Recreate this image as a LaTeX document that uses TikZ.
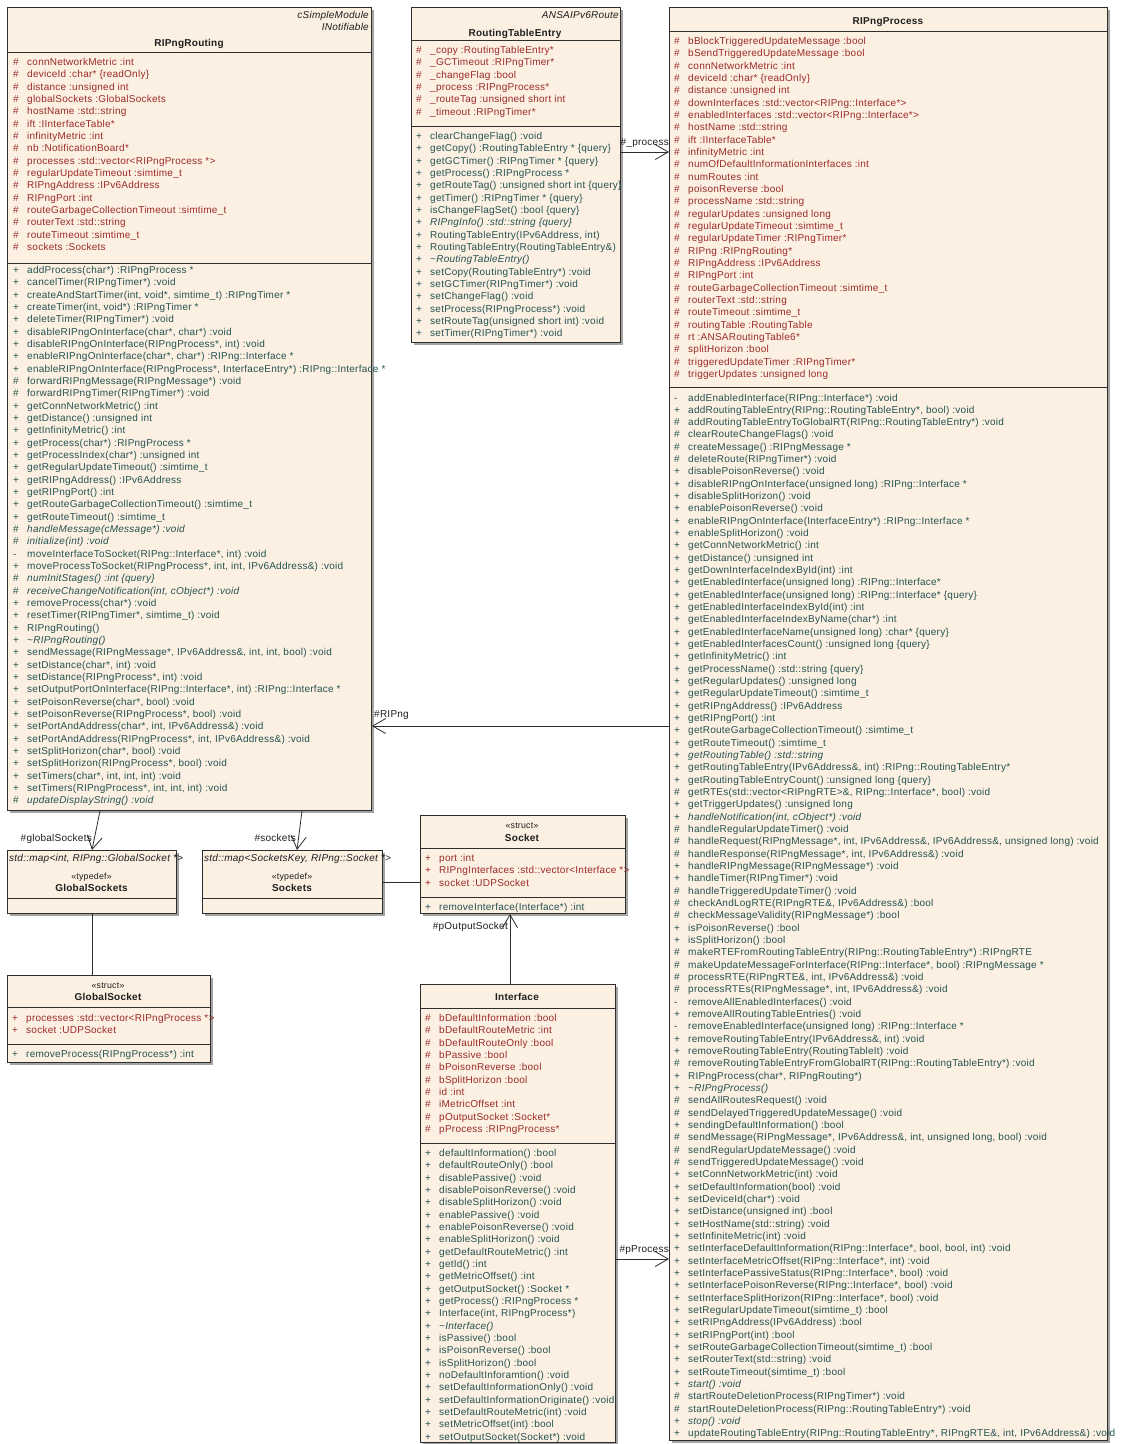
\documentclass[tikz,border=0pt]{standalone}
\usepackage{fontspec}
\setmainfont{Liberation Sans}[LetterSpace=2.5]
\usetikzlibrary{arrows.meta,shadows}
\definecolor{paper}{HTML}{FBF0E1}
\definecolor{frame}{HTML}{2E2E2E}
\definecolor{shade}{HTML}{A4A4A4}
\definecolor{attrtxt}{HTML}{9C2A2A}
\definecolor{optxt}{HTML}{245252}
\definecolor{ink}{HTML}{1E1E1E}
\newcommand\vis[1]{\makebox[14pt][l]{#1}}

\begin{document}
\begin{tikzpicture}[x=1pt,y=-1pt,
  every node/.style={font=\fontsize{10}{11}\selectfont,inner sep=0pt},
  cls/.style={draw=frame,fill=paper,line width=0.9pt,anchor=north west,
    drop shadow={shadow xshift=2.5pt,shadow yshift=-2.5pt,fill=shade,opacity=1}},
  attr/.style={anchor=base west,text=attrtxt},
  oper/.style={anchor=base west,text=optxt},
  cname/.style={anchor=base,font=\fontsize{10}{11}\selectfont\bfseries,text=ink},
  stereo/.style={anchor=base,font=\fontsize{8.8}{10}\selectfont,text=ink},
  tagged/.style={font=\fontsize{10}{11}\selectfont\itshape,text=ink},
  role/.style={anchor=base east,text=ink},
  sep/.style={draw=frame,line width=0.9pt},
  assoc/.style={draw=frame,line width=0.8pt,-{Straight Barb[length=13pt,width=15pt]}},
  link/.style={draw=frame,line width=0.8pt}]
\def\dy{12.33}
\fill[white] (0,0) rectangle (1121,1444);
\useasboundingbox (0,0) rectangle (1121,1444);

% class boxes
\node[cls,minimum width=364,minimum height=803] (routing) at (7,7) {};
\node[cls,minimum width=209,minimum height=335] (rte) at (411,7) {};
\node[cls,minimum width=438,minimum height=1433] (proc) at (669,7) {};
\node[cls,minimum width=169,minimum height=63] (gsockets) at (7,850) {};
\node[cls,minimum width=180,minimum height=63] (sockets) at (202,850) {};
\node[cls,minimum width=205,minimum height=98] (socket) at (420,815) {};
\node[cls,minimum width=203,minimum height=87] (gsocket) at (7,975) {};
\node[cls,minimum width=195,minimum height=458] (iface) at (420,984) {};

\draw[sep] (7,52) -- (371,52);
\draw[sep] (7,263) -- (371,263);
\draw[sep] (411,40) -- (620,40);
\draw[sep] (411,126) -- (620,126);
\draw[sep] (669,31) -- (1107,31);
\draw[sep] (669,387) -- (1107,387);
\draw[sep] (7,898) -- (176,898);
\draw[sep] (202,898) -- (382,898);
\draw[sep] (420,848) -- (625,848);
\draw[sep] (420,897) -- (625,897);
\draw[sep] (7,1007) -- (210,1007);
\draw[sep] (7,1044) -- (210,1044);
\draw[sep] (420,1008) -- (615,1008);
\draw[sep] (420,1143) -- (615,1143);

% RIPngRouting
\node[tagged,anchor=base east] (rtag1) at (369,18.5) {cSimpleModule};
\node[tagged,anchor=base east] (rtag2) at (369,30.5) {INotifiable};
\node[cname] (rname) at (189,46) {RIPngRouting};
\foreach \vs/\txt [count=\i from 0] in {\#/connNetworkMetric :int, \#/deviceId :char* \{readOnly\},
  \#/distance :unsigned int, \#/globalSockets :GlobalSockets, \#/hostName :std::string,
  \#/ift :IInterfaceTable*, \#/infinityMetric :int, \#/nb :NotificationBoard*,
  \#/processes :std::vector<RIPngProcess *>, \#/regularUpdateTimeout :simtime\_t,
  \#/RIPngAddress :IPv6Address, \#/RIPngPort :int, \#/routeGarbageCollectionTimeout :simtime\_t,
  \#/routerText :std::string, \#/routeTimeout :simtime\_t, \#/sockets :Sockets}
  \node[attr] (ra\i) at (13,{65.5+\i*\dy}) {\vis{\vs}\txt};
\foreach \vs/\txt [count=\i from 0] in {+/addProcess(char*) :RIPngProcess *,
  +/cancelTimer(RIPngTimer*) :void,
  +/{createAndStartTimer(int, void*, simtime\_t) :RIPngTimer *},
  +/{createTimer(int, void*) :RIPngTimer *},
  +/deleteTimer(RIPngTimer*) :void,
  +/{disableRIPngOnInterface(char*, char*) :void},
  +/{disableRIPngOnInterface(RIPngProcess*, int) :void},
  +/{enableRIPngOnInterface(char*, char*) :RIPng::Interface *},
  +/{enableRIPngOnInterface(RIPngProcess*, InterfaceEntry*) :RIPng::Interface *},
  \#/forwardRIPngMessage(RIPngMessage*) :void,
  \#/forwardRIPngTimer(RIPngTimer*) :void,
  +/getConnNetworkMetric() :int,
  +/getDistance() :unsigned int,
  +/getInfinityMetric() :int,
  +/getProcess(char*) :RIPngProcess *,
  +/getProcessIndex(char*) :unsigned int,
  +/getRegularUpdateTimeout() :simtime\_t,
  +/getRIPngAddress() :IPv6Address,
  +/getRIPngPort() :int,
  +/getRouteGarbageCollectionTimeout() :simtime\_t,
  +/getRouteTimeout() :simtime\_t,
  \#/{\itshape handleMessage(cMessage*) :void},
  \#/{\itshape initialize(int) :void},
  -/{moveInterfaceToSocket(RIPng::Interface*, int) :void},
  +/{moveProcessToSocket(RIPngProcess*, int, int, IPv6Address\&) :void},
  \#/{\itshape numInitStages() :int \{query\}},
  \#/{\itshape receiveChangeNotification(int, cObject*) :void},
  +/removeProcess(char*) :void,
  +/{resetTimer(RIPngTimer*, simtime\_t) :void},
  +/RIPngRouting(),
  +/{\itshape \textasciitilde RIPngRouting()},
  +/{sendMessage(RIPngMessage*, IPv6Address\&, int, int, bool) :void},
  +/{setDistance(char*, int) :void},
  +/{setDistance(RIPngProcess*, int) :void},
  +/{setOutputPortOnInterface(RIPng::Interface*, int) :RIPng::Interface *},
  +/{setPoisonReverse(char*, bool) :void},
  +/{setPoisonReverse(RIPngProcess*, bool) :void},
  +/{setPortAndAddress(char*, int, IPv6Address\&) :void},
  +/{setPortAndAddress(RIPngProcess*, int, IPv6Address\&) :void},
  +/{setSplitHorizon(char*, bool) :void},
  +/{setSplitHorizon(RIPngProcess*, bool) :void},
  +/{setTimers(char*, int, int, int) :void},
  +/{setTimers(RIPngProcess*, int, int, int) :void},
  \#/{\itshape updateDisplayString() :void}}
  \node[oper] (ro\i) at (13,{273.5+\i*\dy}) {\vis{\vs}\txt};

% RoutingTableEntry
\node[tagged,anchor=base east] (ttag) at (619,18.5) {ANSAIPv6Route};
\node[cname] (tname) at (515,36.5) {RoutingTableEntry};
\foreach \vs/\txt [count=\i from 0] in {\#/\_copy :RoutingTableEntry*, \#/\_GCTimeout :RIPngTimer*,
  \#/\_changeFlag :bool, \#/\_process :RIPngProcess*, \#/\_routeTag :unsigned short int,
  \#/\_timeout :RIPngTimer*}
  \node[attr] (ta\i) at (416,{53.5+\i*\dy}) {\vis{\vs}\txt};
\foreach \vs/\txt [count=\i from 0] in {+/clearChangeFlag() :void,
  +/getCopy() :RoutingTableEntry * \{query\},
  +/getGCTimer() :RIPngTimer * \{query\},
  +/getProcess() :RIPngProcess *,
  +/getRouteTag() :unsigned short int \{query\},
  +/getTimer() :RIPngTimer * \{query\},
  +/isChangeFlagSet() :bool \{query\},
  +/{\itshape RIPngInfo() :std::string \{query\}},
  +/{RoutingTableEntry(IPv6Address, int)},
  +/RoutingTableEntry(RoutingTableEntry\&),
  +/{\itshape \textasciitilde RoutingTableEntry()},
  +/setCopy(RoutingTableEntry*) :void,
  +/setGCTimer(RIPngTimer*) :void,
  +/setChangeFlag() :void,
  +/setProcess(RIPngProcess*) :void,
  +/setRouteTag(unsigned short int) :void,
  +/setTimer(RIPngTimer*) :void}
  \node[oper] (to\i) at (416,{139.5+\i*\dy}) {\vis{\vs}\txt};

% RIPngProcess
\node[cname] (pname) at (888,24) {RIPngProcess};
\foreach \vs/\txt [count=\i from 0] in {\#/bBlockTriggeredUpdateMessage :bool,
  \#/bSendTriggeredUpdateMessage :bool, \#/connNetworkMetric :int, \#/deviceId :char* \{readOnly\},
  \#/distance :unsigned int, \#/downInterfaces :std::vector<RIPng::Interface*>,
  \#/enabledInterfaces :std::vector<RIPng::Interface*>, \#/hostName :std::string,
  \#/ift :IInterfaceTable*, \#/infinityMetric :int, \#/numOfDefaultInformationInterfaces :int,
  \#/numRoutes :int, \#/poisonReverse :bool, \#/processName :std::string,
  \#/regularUpdates :unsigned long, \#/regularUpdateTimeout :simtime\_t,
  \#/regularUpdateTimer :RIPngTimer*, \#/RIPng :RIPngRouting*, \#/RIPngAddress :IPv6Address,
  \#/RIPngPort :int, \#/routeGarbageCollectionTimeout :simtime\_t, \#/routerText :std::string,
  \#/routeTimeout :simtime\_t, \#/routingTable :RoutingTable, \#/rt :ANSARoutingTable6*,
  \#/splitHorizon :bool, \#/triggeredUpdateTimer :RIPngTimer*, \#/triggerUpdates :unsigned long}
  \node[attr] (pa\i) at (674,{44.5+\i*\dy}) {\vis{\vs}\txt};
\foreach \vs/\txt [count=\i from 0] in {-/addEnabledInterface(RIPng::Interface*) :void,
  +/{addRoutingTableEntry(RIPng::RoutingTableEntry*, bool) :void},
  \#/addRoutingTableEntryToGlobalRT(RIPng::RoutingTableEntry*) :void,
  \#/clearRouteChangeFlags() :void,
  \#/createMessage() :RIPngMessage *,
  \#/deleteRoute(RIPngTimer*) :void,
  +/disablePoisonReverse() :void,
  +/disableRIPngOnInterface(unsigned long) :RIPng::Interface *,
  +/disableSplitHorizon() :void,
  +/enablePoisonReverse() :void,
  +/enableRIPngOnInterface(InterfaceEntry*) :RIPng::Interface *,
  +/enableSplitHorizon() :void,
  +/getConnNetworkMetric() :int,
  +/getDistance() :unsigned int,
  +/getDownInterfaceIndexById(int) :int,
  +/getEnabledInterface(unsigned long) :RIPng::Interface*,
  +/getEnabledInterface(unsigned long) :RIPng::Interface* \{query\},
  +/getEnabledInterfaceIndexById(int) :int,
  +/getEnabledInterfaceIndexByName(char*) :int,
  +/getEnabledInterfaceName(unsigned long) :char* \{query\},
  +/getEnabledInterfacesCount() :unsigned long \{query\},
  +/getInfinityMetric() :int,
  +/getProcessName() :std::string \{query\},
  +/getRegularUpdates() :unsigned long,
  +/getRegularUpdateTimeout() :simtime\_t,
  +/getRIPngAddress() :IPv6Address,
  +/getRIPngPort() :int,
  +/getRouteGarbageCollectionTimeout() :simtime\_t,
  +/getRouteTimeout() :simtime\_t,
  +/{\itshape getRoutingTable() :std::string},
  +/{getRoutingTableEntry(IPv6Address\&, int) :RIPng::RoutingTableEntry*},
  +/getRoutingTableEntryCount() :unsigned long \{query\},
  \#/{getRTEs(std::vector<RIPngRTE>\&, RIPng::Interface*, bool) :void},
  +/getTriggerUpdates() :unsigned long,
  +/{\itshape handleNotification(int, cObject*) :void},
  \#/handleRegularUpdateTimer() :void,
  \#/{handleRequest(RIPngMessage*, int, IPv6Address\&, IPv6Address\&, unsigned long) :void},
  \#/{handleResponse(RIPngMessage*, int, IPv6Address\&) :void},
  +/handleRIPngMessage(RIPngMessage*) :void,
  +/handleTimer(RIPngTimer*) :void,
  \#/handleTriggeredUpdateTimer() :void,
  \#/{checkAndLogRTE(RIPngRTE\&, IPv6Address\&) :bool},
  \#/checkMessageValidity(RIPngMessage*) :bool,
  +/isPoisonReverse() :bool,
  +/isSplitHorizon() :bool,
  \#/makeRTEFromRoutingTableEntry(RIPng::RoutingTableEntry*) :RIPngRTE,
  \#/{makeUpdateMessageForInterface(RIPng::Interface*, bool) :RIPngMessage *},
  \#/{processRTE(RIPngRTE\&, int, IPv6Address\&) :void},
  \#/{processRTEs(RIPngMessage*, int, IPv6Address\&) :void},
  -/removeAllEnabledInterfaces() :void,
  +/removeAllRoutingTableEntries() :void,
  -/removeEnabledInterface(unsigned long) :RIPng::Interface *,
  +/{removeRoutingTableEntry(IPv6Address\&, int) :void},
  +/removeRoutingTableEntry(RoutingTableIt) :void,
  \#/removeRoutingTableEntryFromGlobalRT(RIPng::RoutingTableEntry*) :void,
  +/{RIPngProcess(char*, RIPngRouting*)},
  +/{\itshape \textasciitilde RIPngProcess()},
  \#/sendAllRoutesRequest() :void,
  \#/sendDelayedTriggeredUpdateMessage() :void,
  +/sendingDefaultInformation() :bool,
  \#/{sendMessage(RIPngMessage*, IPv6Address\&, int, unsigned long, bool) :void},
  \#/sendRegularUpdateMessage() :void,
  \#/sendTriggeredUpdateMessage() :void,
  +/setConnNetworkMetric(int) :void,
  +/setDefaultInformation(bool) :void,
  +/setDeviceId(char*) :void,
  +/setDistance(unsigned int) :bool,
  +/setHostName(std::string) :void,
  +/setInfiniteMetric(int) :void,
  +/{setInterfaceDefaultInformation(RIPng::Interface*, bool, bool, int) :void},
  +/{setInterfaceMetricOffset(RIPng::Interface*, int) :void},
  +/{setInterfacePassiveStatus(RIPng::Interface*, bool) :void},
  +/{setInterfacePoisonReverse(RIPng::Interface*, bool) :void},
  +/{setInterfaceSplitHorizon(RIPng::Interface*, bool) :void},
  +/setRegularUpdateTimeout(simtime\_t) :bool,
  +/setRIPngAddress(IPv6Address) :bool,
  +/setRIPngPort(int) :bool,
  +/setRouteGarbageCollectionTimeout(simtime\_t) :bool,
  +/setRouterText(std::string) :void,
  +/setRouteTimeout(simtime\_t) :bool,
  +/{\itshape start() :void},
  \#/startRouteDeletionProcess(RIPngTimer*) :void,
  \#/startRouteDeletionProcess(RIPng::RoutingTableEntry*) :void,
  +/{\itshape stop() :void},
  +/{updateRoutingTableEntry(RIPng::RoutingTableEntry*, RIPngRTE\&, int, IPv6Address\&) :void}}
  \node[oper] (po\i) at (674,{401+\i*\dy}) {\vis{\vs}\txt};

% typedefs and structs
\node[tagged,anchor=base west] (gtype) at (9,861.5) {std::map<int, RIPng::GlobalSocket *>};
\node[stereo] (gster) at (91.5,879) {«typedef»};
\node[cname] (gname) at (91.5,891) {GlobalSockets};
\node[tagged,anchor=base west] (stype) at (204,861.5) {std::map<SocketsKey, RIPng::Socket *>};
\node[stereo] (sster) at (292,879) {«typedef»};
\node[cname] (sname) at (292,891) {Sockets};

\node[stereo] (kster) at (522,828.5) {«struct»};
\node[cname] (kname) at (522,841) {Socket};
\foreach \vs/\txt [count=\i from 0] in {+/port :int, +/RIPngInterfaces :std::vector<Interface *>,
  +/socket :UDPSocket}
  \node[attr] (ka\i) at (425,{861.5+\i*\dy}) {\vis{\vs}\txt};
\node[oper] (ko0) at (425,910.5) {\vis{+}removeInterface(Interface*) :int};

\node[stereo] (bster) at (108,988.5) {«struct»};
\node[cname] (bname) at (108,1000.5) {GlobalSocket};
\foreach \vs/\txt [count=\i from 0] in {+/processes :std::vector<RIPngProcess *>, +/socket :UDPSocket}
  \node[attr] (ba\i) at (12,{1021.5+\i*\dy}) {\vis{\vs}\txt};
\node[oper] (bo0) at (12,1057.5) {\vis{+}removeProcess(RIPngProcess*) :int};

% Interface
\node[cname] (iname) at (517,1000.5) {Interface};
\foreach \vs/\txt [count=\i from 0] in {\#/bDefaultInformation :bool, \#/bDefaultRouteMetric :int,
  \#/bDefaultRouteOnly :bool, \#/bPassive :bool, \#/bPoisonReverse :bool, \#/bSplitHorizon :bool,
  \#/id :int, \#/iMetricOffset :int, \#/pOutputSocket :Socket*, \#/pProcess :RIPngProcess*}
  \node[attr] (ia\i) at (425,{1021.5+\i*\dy}) {\vis{\vs}\txt};
\foreach \vs/\txt [count=\i from 0] in {+/defaultInformation() :bool,
  +/defaultRouteOnly() :bool, +/disablePassive() :void, +/disablePoisonReverse() :void,
  +/disableSplitHorizon() :void, +/enablePassive() :void, +/enablePoisonReverse() :void,
  +/enableSplitHorizon() :void, +/getDefaultRouteMetric() :int, +/getId() :int,
  +/getMetricOffset() :int, +/getOutputSocket() :Socket *, +/getProcess() :RIPngProcess *,
  +/{Interface(int, RIPngProcess*)}, +/{\itshape \textasciitilde Interface()},
  +/isPassive() :bool, +/isPoisonReverse() :bool, +/isSplitHorizon() :bool,
  +/noDefaultInforamtion() :void, +/setDefaultInformationOnly() :void,
  +/setDefaultInformationOriginate() :void, +/setDefaultRouteMetric(int) :void,
  +/setMetricOffset(int) :bool, +/setOutputSocket(Socket*) :void}
  \node[oper] (io\i) at (425,{1156.5+\i*\dy}) {\vis{\vs}\txt};

% associations
\draw[assoc] (rte.east |- 0,152) -- (proc.west |- 0,152);
\draw[assoc] (proc.west |- 0,726) -- (routing.east |- 0,726);
\draw[assoc] (iface.east |- 0,1259) -- (proc.west |- 0,1259);
\draw[assoc] (routing.south -| 100,0) -- (gsockets.north -| 92,0);
\draw[assoc] (routing.south -| 302,0) -- (sockets.north -| 297,0);
\draw[assoc] (iface.north -| 510,0) -- (socket.south -| 510,0);
\draw[link] (sockets.east |- 0,882) -- (socket.west |- 0,882);
\draw[link] (gsockets.south -| 92,0) -- (gsocket.north -| 92,0);

\node[role] (lprocess) at (669,145.5) {\#\_process};
\node[role,anchor=base west] (lripng) at (374,717.5) {\#RIPng};
\node[role] (lpprocess) at (669,1252) {\#pProcess};
\node[role] (lglobal) at (92,841.5) {\#globalSockets};
\node[role] (lsockets) at (296,841.5) {\#sockets};
\node[role] (loutput) at (508,929) {\#pOutputSocket};
\end{tikzpicture}
\end{document}
